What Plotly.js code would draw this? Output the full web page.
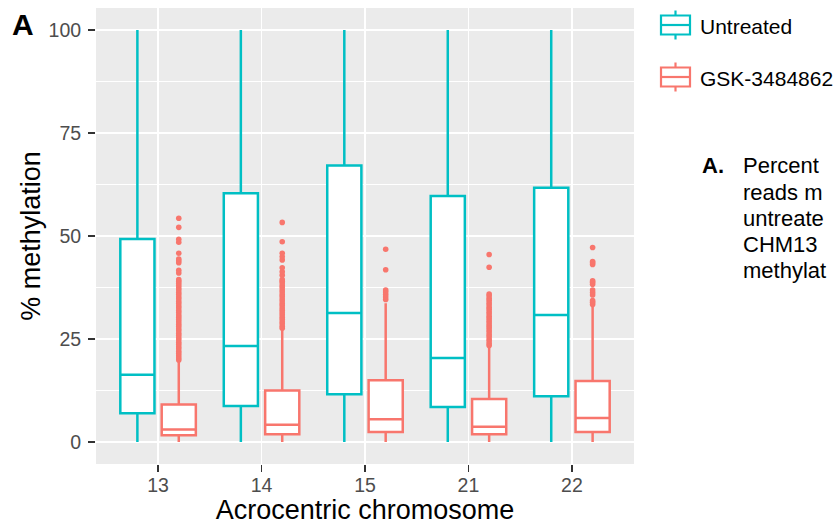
<!DOCTYPE html>
<html><head><meta charset="utf-8">
<script src="https://cdn.plot.ly/plotly-3.0.1.min.js"></script>
<style>html,body{margin:0;padding:0;background:#fff;overflow:hidden}</style>
</head><body><div id="chart" style="width:837px;height:525px"></div>
<script>
// ---- data ----
const chromosomes = ['13', '14', '15', '21', '22'];
const groupNames = ['Untreated', 'GSK-3484862'];

const untreatedQ1 = [7.0, 8.7, 11.6, 8.5, 11.1];
const untreatedMedian = [16.3, 23.3, 31.3, 20.4, 30.8];
const untreatedQ3 = [49.3, 60.4, 67.1, 59.7, 61.7];
const untreatedLower = [0, 0, 0, 0, 0];
const untreatedUpper = [100, 100, 100, 100, 100];

const gskQ1 = [1.6, 1.9, 2.4, 1.9, 2.4];
const gskMedian = [3.0, 4.2, 5.5, 3.7, 5.8];
const gskQ3 = [9.1, 12.5, 15.0, 10.4, 14.8];
const gskLower = [0, 0, 0, 0, 0];
const gskUpper = [19.7, 27.3, 33.7, 23.1, 32.9];

const gskOutliers13 = [19.9, 20.4, 20.9, 21.5, 22.0, 22.6, 23.1, 23.7, 24.2, 24.8, 25.3, 25.9, 26.4, 27.0, 27.5,
  28.1, 28.6, 29.2, 29.7, 30.3, 30.8, 31.4, 31.9, 32.5, 33.0, 33.6, 34.1, 34.7, 35.2, 35.8, 36.3, 36.9, 37.4,
  38.0, 38.5, 39.0, 39.4, 41.0, 41.7, 43.5, 44.0, 44.4, 45.8, 48.5, 49.2, 52.1, 54.3];
const gskOutliers14 = [27.6, 28.1, 28.7, 29.2, 29.8, 30.3, 30.9, 31.4, 32.0, 32.5, 33.1, 33.6, 34.2, 34.7, 35.3,
  35.8, 36.4, 36.9, 37.5, 38.0, 38.6, 39.0, 39.4, 40.5, 41.3, 42.3, 44.2, 45.0, 45.8, 48.6, 53.3];
const gskOutliers15 = [34.6, 35.2, 35.8, 36.4, 36.9, 41.8, 46.8];
const gskOutliers21 = [23.4, 23.9, 24.5, 25.0, 25.6, 26.1, 26.7, 27.2, 27.8, 28.3, 28.9, 29.4, 30.0, 30.5, 31.1,
  31.6, 32.2, 32.7, 33.3, 33.8, 34.4, 34.9, 35.5, 35.9, 42.4, 45.5];
const gskOutliers22 = [33.4, 33.9, 34.3, 35.7, 36.3, 36.9, 38.3, 38.8, 39.1, 43.1, 43.5, 43.8, 47.2];

const captionLines = ['Percent', 'reads m', 'untreate', 'CHM13', 'methylat'];

// ---- styling ----
const TEAL = '#00BFC4', SALMON = '#F8766D';
const FONT = 'Liberation Sans, Arial, Helvetica, sans-serif';
// panel pixel frame (for annotations / legend positioned in paper coords)
const L = 96, R = 634, T = 8, B = 464;
const px = v => (v - L) / (R - L);
const py = v => (B - v) / (B - T);

const traces = [
  {
    type: 'box', name: groupNames[0], x: chromosomes, orientation: 'v',
    q1: untreatedQ1, median: untreatedMedian, q3: untreatedQ3,
    lowerfence: untreatedLower, upperfence: untreatedUpper,
    boxpoints: false, whiskerwidth: 0, fillcolor: '#ffffff',
    line: {color: TEAL, width: 2.5}, showlegend: false, hoverinfo: 'skip'
  },
  {
    type: 'box', name: groupNames[1], x: chromosomes, orientation: 'v',
    y: [gskOutliers13, gskOutliers14, gskOutliers15, gskOutliers21, gskOutliers22],
    q1: gskQ1, median: gskMedian, q3: gskQ3,
    lowerfence: gskLower, upperfence: gskUpper,
    boxpoints: 'outliers', jitter: 0, pointpos: 0, whiskerwidth: 0, fillcolor: '#ffffff',
    marker: {color: SALMON, size: 5.6, line: {width: 0}, opacity: 1},
    line: {color: SALMON, width: 2.5}, showlegend: false, hoverinfo: 'skip'
  }
];

// manual ggplot-style legend glyphs
const shapes = [];
function glyph(cx, cy, color) {
  const hw = 14.5, hh = 9.5, wl = 5;
  shapes.push({type: 'line', xref: 'paper', yref: 'paper', x0: px(cx), x1: px(cx), y0: py(cy - hh - wl), y1: py(cy - hh), line: {color, width: 2.2}});
  shapes.push({type: 'line', xref: 'paper', yref: 'paper', x0: px(cx), x1: px(cx), y0: py(cy + hh), y1: py(cy + hh + wl), line: {color, width: 2.2}});
  shapes.push({type: 'rect', xref: 'paper', yref: 'paper', x0: px(cx - hw), x1: px(cx + hw), y0: py(cy + hh), y1: py(cy - hh), line: {color, width: 2.2}, fillcolor: '#ffffff'});
  shapes.push({type: 'line', xref: 'paper', yref: 'paper', x0: px(cx - hw), x1: px(cx + hw), y0: py(cy), y1: py(cy), line: {color, width: 2.2}});
}
glyph(675.5, 25, TEAL);
glyph(675.5, 77, SALMON);

const annotations = [
  {text: '<b>A</b>', xref: 'paper', yref: 'paper', x: px(23), y: py(25), xanchor: 'center', yanchor: 'middle', showarrow: false, font: {family: FONT, size: 30, color: '#000'}},
  {text: groupNames[0], xref: 'paper', yref: 'paper', x: px(698), y: py(27), xanchor: 'left', yanchor: 'middle', showarrow: false, font: {family: FONT, size: 21, color: '#000'}},
  {text: groupNames[1], xref: 'paper', yref: 'paper', x: px(698), y: py(78), xanchor: 'left', yanchor: 'middle', showarrow: false, font: {family: FONT, size: 21, color: '#000'}},
  {text: '<b>A.</b>', xref: 'paper', yref: 'paper', x: px(700), y: py(166), xanchor: 'left', yanchor: 'middle', showarrow: false, font: {family: FONT, size: 22, color: '#000'}}
];
captionLines.forEach((t, i) => {
  annotations.push({text: t, xref: 'paper', yref: 'paper', x: px(741), y: py(166 + i * 26), xanchor: 'left', yanchor: 'middle', showarrow: false, font: {family: FONT, size: 22, color: '#000'}});
});

const layout = {
  width: 837, height: 525,
  margin: {l: L, r: 837 - R, t: T, b: 525 - B, pad: 0},
  paper_bgcolor: '#ffffff', plot_bgcolor: '#EBEBEB',
  font: {family: FONT, color: '#000'},
  boxmode: 'group', boxgap: 0.2, boxgroupgap: 0.175,
  showlegend: false,
  xaxis: {
    type: 'category', categoryorder: 'array', categoryarray: chromosomes,
    range: [-0.6, 4.6], automargin: false,
    showgrid: true, gridcolor: '#ffffff', gridwidth: 1.9,
    ticks: 'outside', ticklen: 7, tickwidth: 1.8, tickcolor: '#333333',
    tickfont: {family: FONT, size: 19.5, color: '#4D4D4D'}, ticklabelstandoff: -3,
    showline: false, zeroline: false,
    title: {text: 'Acrocentric chromosome', font: {family: FONT, size: 27, color: '#000'}, standoff: 12}
  },
  yaxis: {
    range: [-5.35, 105.35], automargin: false,
    tickvals: [0, 25, 50, 75, 100], ticktext: ['0', '25', '50', '75', '100'],
    showgrid: true, gridcolor: '#ffffff', gridwidth: 1.9,
    minor: {tickvals: [12.5, 37.5, 62.5, 87.5], showgrid: true, gridcolor: '#ffffff', gridwidth: 1, ticks: ''},
    ticks: 'outside', ticklen: 7, tickwidth: 1.8, tickcolor: '#333333',
    tickfont: {family: FONT, size: 19.5, color: '#4D4D4D'}, ticklabelstandoff: 3,
    showline: false, zeroline: false,
    title: {text: '% methylation', font: {family: FONT, size: 27, color: '#000'}, standoff: 0}
  },
  shapes, annotations
};

Plotly.newPlot('chart', traces, layout, {staticPlot: true, displayModeBar: false});
</script>
</body></html>
